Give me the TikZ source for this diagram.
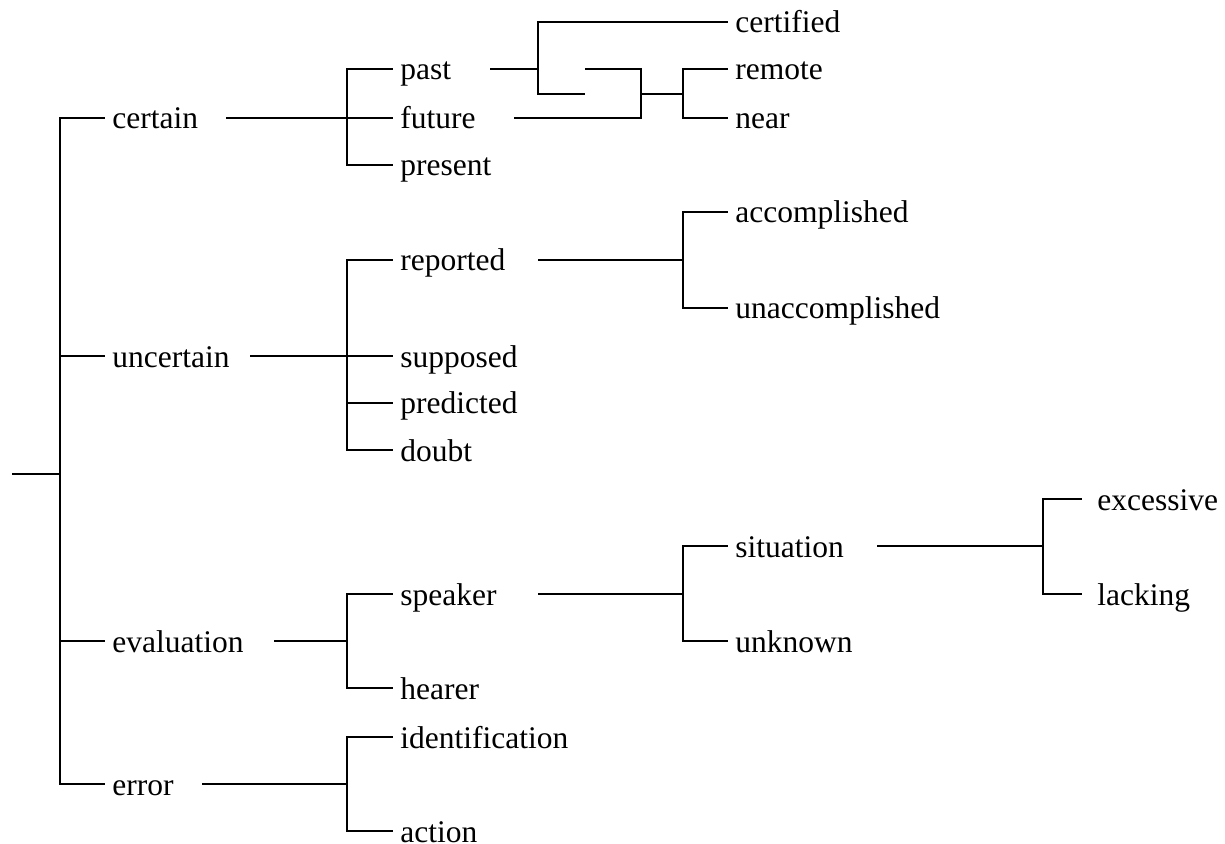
\documentclass[tikz,border=0pt]{standalone}
\usepackage{fontspec}
\setmainfont{Liberation Serif}
\usepackage{tikz}
\usetikzlibrary{positioning}

\tikzset{
  lbl/.style={anchor=west,inner xsep=3.5pt,inner ysep=0pt,text height=11pt,text depth=0pt,font=\fontsize{15.75}{18}\selectfont},
  hline/.style={line width=0.7pt},
  vline/.style={line width=1.1pt,line cap=rect}
}

\begin{document}
\begin{tikzpicture}[x=0.5pt,y=-0.5pt]
\useasboundingbox (0,0) rectangle (1225,844);
% first level
\node at (105,118)[lbl](certain){certain};
\node at (105,356)[lbl](uncertain){uncertain};
\node at (105,641)[lbl](evaluation){evaluation};
\node at (105,784)[lbl](error){error};
% second level
\node at (393,69)[lbl](past){past};
\node at (393,118)[lbl](future){future};
\node at (393,165)[lbl](present){present};
\node at (393,260)[lbl](reported){reported};
\node at (393,356)[lbl](supposed){supposed};
\node at (393,403)[lbl](predicted){predicted};
\node at (393,450)[lbl](doubt){doubt};
\node at (393,594)[lbl](speaker){speaker};
\node at (393,688)[lbl](hearer){hearer};
\node at (393,737)[lbl](identification){identification};
\node at (393,831)[lbl](action){action};
% third level
\node at (728,22)[lbl](certified){certified};
\node at (728,69)[lbl](remote){remote};
\node at (728,118)[lbl](near){near};
\node at (728,212)[lbl](accomplished){accomplished};
\node at (728,308)[lbl](unaccomplished){unaccomplished};
\node at (728,546)[lbl](situation){situation};
\node at (728,641)[lbl](unknown){unknown};
% fourth level
\node at (1082,499)[lbl,inner xsep=7.5pt](excessive){excessive};
\node at (1082,594)[lbl,inner xsep=7.5pt](lacking){lacking};

% junctions and line ends
\coordinate (root) at (12,474);
\coordinate (j0) at (60,474);
\coordinate (j1) at (347,0);
\coordinate (j2) at (683,0);
\coordinate (j3) at (1043,0);
\coordinate (certainout) at (226,118);
\coordinate (uncertainout) at (250,356);
\coordinate (evaluationout) at (274,641);
\coordinate (errorout) at (202,784);
\coordinate (pastout) at (490,69);
\coordinate (futureout) at (514,118);
\coordinate (reportedout) at (538,260);
\coordinate (speakerout) at (538,594);
\coordinate (situationout) at (877,546);
\coordinate (pa) at (538,22);
\coordinate (pb) at (538,94);
\coordinate (pc) at (585,94);
\coordinate (pd) at (585,69);
\coordinate (pe) at (641,69);
\coordinate (pf) at (641,118);
\coordinate (pg) at (641,94);

% root bracket
\draw[hline] (root) -- (j0);
\draw[vline] (certain.west -| j0) -- (error.west -| j0);
\foreach \n in {certain,uncertain,evaluation,error}
  \draw[hline] (\n.west -| j0) -- (\n.west);

% second level brackets
\draw[hline] (certainout) -- (certain.west -| j1);
\draw[hline] (uncertainout) -- (uncertain.west -| j1);
\draw[hline] (evaluationout) -- (evaluation.west -| j1);
\draw[hline] (errorout) -- (error.west -| j1);
\draw[vline] (past.west -| j1) -- (present.west -| j1);
\draw[vline] (reported.west -| j1) -- (doubt.west -| j1);
\draw[vline] (speaker.west -| j1) -- (hearer.west -| j1);
\draw[vline] (identification.west -| j1) -- (action.west -| j1);
\foreach \n in {past,future,present,reported,supposed,predicted,doubt,speaker,hearer,identification,action}
  \draw[hline] (\n.west -| j1) -- (\n.west);

% past and future
\draw[hline] (pastout) -- (past.west -| pa);
\draw[vline] (pa) -- (pb);
\draw[hline] (pa) -- (certified.west);
\draw[hline] (pb) -- (pc);
\draw[hline] (pd) -- (pe);
\draw[vline] (pe) -- (pf);
\draw[hline] (futureout) -- (pf);
\draw[hline] (pg) -- (pg -| j2);
\draw[vline] (remote.west -| j2) -- (near.west -| j2);
\draw[hline] (remote.west -| j2) -- (remote.west);
\draw[hline] (near.west -| j2) -- (near.west);

% reported, speaker, situation
\draw[hline] (reportedout) -- (reported.west -| j2);
\draw[vline] (accomplished.west -| j2) -- (unaccomplished.west -| j2);
\draw[hline] (speakerout) -- (speaker.west -| j2);
\draw[vline] (situation.west -| j2) -- (unknown.west -| j2);
\foreach \n in {accomplished,unaccomplished,situation,unknown}
  \draw[hline] (\n.west -| j2) -- (\n.west);
\draw[hline] (situationout) -- (situation.west -| j3);
\draw[vline] (excessive.west -| j3) -- (lacking.west -| j3);
\foreach \n in {excessive,lacking}
  \draw[hline] (\n.west -| j3) -- (\n.west);
\end{tikzpicture}
\end{document}
